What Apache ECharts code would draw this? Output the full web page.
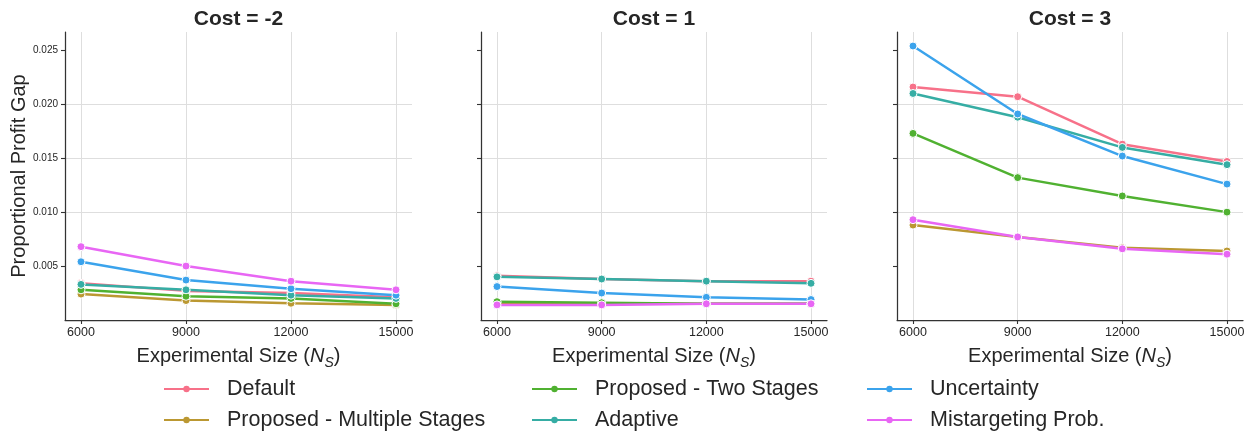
<!DOCTYPE html>
<html><head><meta charset="utf-8">
<script src="https://cdn.jsdelivr.net/npm/echarts@6/dist/echarts.min.js"></script>
<style>html,body{margin:0;padding:0;background:#fff}#c{width:1249px;height:431px}</style>
</head><body><div id="c"></div>
<script>
// ---- data ----
const sizes = [6000, 9000, 12000, 15000];
const costs = ['-2', '1', '3'];
const methods = ['Default', 'Proposed - Multiple Stages', 'Proposed - Two Stages', 'Adaptive', 'Uncertainty', 'Mistargeting Prob.'];
const colors = ['#f77189', '#bb9832', '#50b131', '#36ada4', '#3ba3ec', '#e866f4'];
// each row: one cost panel (-2, 1, 3), values at sizes
const defaultGap      = [[0.0034, 0.0027, 0.0025, 0.0021], [0.0041, 0.0038, 0.0036, 0.0036], [0.0216, 0.0207, 0.0163, 0.0147]];
const multiStageGap   = [[0.0024, 0.0018, 0.00155, 0.0014], [0.0016, 0.0015, 0.0015, 0.0015], [0.0088, 0.0077, 0.0067, 0.0064]];
const twoStageGap     = [[0.0028, 0.0022, 0.0020, 0.0015], [0.0017, 0.0016, 0.0015, 0.0015], [0.0173, 0.0132, 0.0115, 0.0100]];
const adaptiveGap     = [[0.0033, 0.0028, 0.0023, 0.0020], [0.0040, 0.0038, 0.0036, 0.0034], [0.0210, 0.0188, 0.0160, 0.0144]];
const uncertaintyGap  = [[0.0054, 0.0037, 0.0029, 0.0023], [0.0031, 0.0025, 0.0021, 0.0019], [0.0254, 0.0191, 0.0152, 0.0126]];
const mistargetGap    = [[0.0068, 0.0050, 0.0036, 0.0028], [0.0014, 0.0014, 0.0015, 0.0015], [0.0093, 0.0077, 0.0066, 0.0061]];
const allValues = [defaultGap, multiStageGap, twoStageGap, adaptiveGap, uncertaintyGap, mistargetGap];
const yTickValues = [0.005, 0.010, 0.015, 0.020, 0.025];
const yMin = 0, yMax = 0.0267, yStep = 0.005;
const xMin = 6000, xMax = 15000, xStep = 3000;

// ---- layout ----
const FONT = "'Liberation Sans', Arial, sans-serif";
const outerLeft = [65, 481, 897];
const outerWidth = [347, 346, 346];
const PAD = 16;
const TOP = 32, BOTTOM = 111;
const AXC = '#333333';
const GRIDC = '#dedede';

const grids = [], xAxes = [], yAxes = [], series = [], titles = [], legends = [];
costs.forEach((c, p) => {
  // outer grid: axis frame + horizontal grid lines
  grids.push({left: outerLeft[p], width: outerWidth[p], top: TOP, bottom: BOTTOM, containLabel: false});
  // inner grid: data region
  grids.push({left: outerLeft[p] + PAD, width: outerWidth[p] - 2 * PAD, top: TOP, bottom: BOTTOM, containLabel: false});
  const og = 2 * p, ig = 2 * p + 1;
  xAxes.push({gridIndex: og, type: 'value', min: 0, max: 1, axisLine: {show: true, onZero: false, lineStyle: {color: AXC, width: 1.25}},
    axisTick: {show: false}, axisLabel: {show: false}, splitLine: {show: false}});
  xAxes.push({gridIndex: ig, type: 'value', min: xMin, max: xMax, interval: xStep,
    axisLine: {show: false, onZero: false}, axisTick: {show: true, length: 4, lineStyle: {color: AXC, width: 1.1}},
    axisLabel: {show: true, fontSize: 12.5, color: '#262626', fontFamily: FONT, margin: 6, formatter: v => String(v)},
    splitLine: {show: true, lineStyle: {color: GRIDC, width: 1}},
    name: 'Experimental Size ({n|N}{s|S})', nameLocation: 'middle', nameGap: 16,
    nameTextStyle: {fontSize: 20, color: '#262626', fontFamily: FONT, lineHeight: 26,
      rich: {n: {fontSize: 20, fontStyle: 'italic', fontFamily: FONT, color: '#262626', lineHeight: 26},
             s: {fontSize: 14, fontStyle: 'italic', fontFamily: FONT, color: '#262626', lineHeight: 14, verticalAlign: 'bottom'}}}});
  yAxes.push({gridIndex: og, type: 'value', min: yMin, max: yMax, interval: yStep,
    axisLine: {show: true, onZero: false, lineStyle: {color: AXC, width: 1.25}},
    axisTick: {show: true, length: 4, customValues: yTickValues, lineStyle: {color: AXC, width: 1.1}},
    axisLabel: {show: p === 0, fontSize: 10, color: '#262626', fontFamily: FONT, margin: 7,
      customValues: yTickValues, formatter: v => v.toFixed(3)},
    splitLine: {show: true, showMinLine: false, showMaxLine: false, lineStyle: {color: GRIDC, width: 1}},
    name: p === 0 ? 'Proportional Profit Gap' : '', nameLocation: 'middle', nameGap: 36,
    nameTextStyle: {fontSize: 20, color: '#262626', fontFamily: FONT}});
  yAxes.push({gridIndex: ig, type: 'value', min: yMin, max: yMax, show: false});
  titles.push({text: 'Cost = ' + c, left: outerLeft[p] + outerWidth[p] / 2, top: 9, textAlign: 'center', padding: 0,
    textStyle: {fontSize: 21, fontWeight: 'bold', color: '#262626', fontFamily: FONT}});
  methods.forEach((m, k) => {
    series.push({name: m, type: 'line', xAxisIndex: ig, yAxisIndex: ig,
      data: sizes.map((s, i) => [s, allValues[k][p][i]]),
      color: colors[k], symbol: 'circle', symbolSize: 8,
      lineStyle: {width: 2.5, color: colors[k]},
      itemStyle: {color: colors[k], borderColor: '#ffffff', borderWidth: 1},
      emphasis: {disabled: true}, animation: false, clip: false});
  });
});

const legX = [163, 531, 866], legY = [378, 409];
methods.forEach((m, k) => {
  legends.push({data: [m], left: legX[Math.floor(k / 2)], top: legY[k % 2], padding: 0,
    itemWidth: 45, itemHeight: 8, selectedMode: false,
    itemStyle: {borderWidth: 0},
    textStyle: {fontSize: 21.5, color: '#262626', fontFamily: FONT, padding: [0, 0, 0, 13]}});
});

const chart = echarts.init(document.getElementById('c'), null, {renderer: 'canvas'});
chart.setOption({
  backgroundColor: '#ffffff', animation: false,
  title: titles, legend: legends, grid: grids, xAxis: xAxes, yAxis: yAxes, series: series,
  tooltip: {show: false}
});
</script></body></html>
